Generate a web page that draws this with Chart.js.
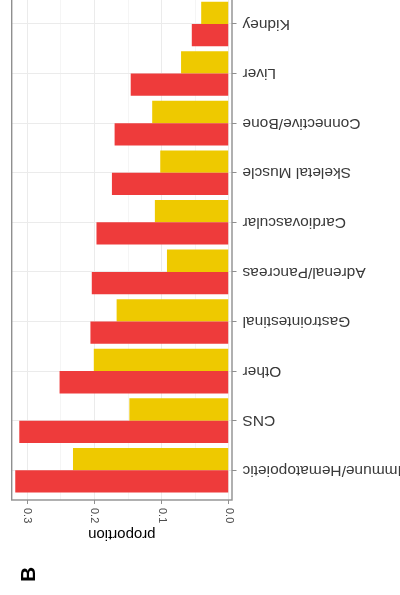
<!DOCTYPE html>
<html lang="en">
<head>
    <meta charset="UTF-8">
    <title>Proportion by tissue</title>
    <style>
        html, body { margin: 0; padding: 0; background: #fff; overflow: hidden; }
        #wrap { position: relative; width: 400px; height: 595px; overflow: hidden; }
        /* the reference is the whole figure turned upside down */
        #grafica { position: absolute; left: 0; top: -25px; transform: rotate(180deg); }
    </style>
</head>
<body>
    <div id="wrap">
        <canvas id="grafica" width="400" height="620"></canvas>
    </div>

    <script src="https://cdn.jsdelivr.net/npm/chart.js"></script>
    <script>
        const categories = ['Immune/Hematopoietic', 'CNS', 'Other', 'Gastrointestinal', 'Adrenal/Pancreas',
            'Cardiovascular', 'Skeletal Muscle', 'Connective/Bone', 'Liver', 'Kidney'];
        const redValues = [0.318, 0.312, 0.252, 0.206, 0.204, 0.197, 0.174, 0.170, 0.146, 0.055];
        const yellowValues = [0.232, 0.148, 0.201, 0.167, 0.092, 0.110, 0.102, 0.114, 0.071, 0.041];
        const proportionTicks = [0, 0.05, 0.1, 0.15, 0.2, 0.25, 0.3];

        const isMajor = v => Math.round(v * 100) % 10 === 0;

        // panel border + the "B" panel tag
        const extras = {
            id: 'extras',
            afterDatasetsDraw(chart) {
                const { ctx, chartArea: a } = chart;
                ctx.save();
                ctx.strokeStyle = '#8f8f8f';
                ctx.lineWidth = 1.4;
                ctx.strokeRect(a.left, a.top, a.right - a.left, a.bottom - a.top);
                ctx.restore();
            },
            afterDraw(chart) {
                const ctx = chart.ctx;
                ctx.save();
                ctx.translate(370.5, 20.5);
                ctx.rotate(Math.PI / 2);
                ctx.font = "bold 21px 'Liberation Sans', Arial, sans-serif";
                ctx.fillStyle = '#000';
                ctx.textAlign = 'center';
                ctx.textBaseline = 'middle';
                ctx.fillText('B', 0, 0);
                ctx.restore();
            }
        };

        Chart.defaults.font.family = "'Liberation Sans', Arial, sans-serif";

        const ctx = document.getElementById('grafica').getContext('2d');
        new Chart(ctx, {
            type: 'bar',
            data: {
                datasets: [{
                    label: 'red',
                    data: redValues.map((v, i) => ({ x: v, y: i })),
                    backgroundColor: '#EE3B3B',
                    borderWidth: 0
                }, {
                    label: 'yellow',
                    data: yellowValues.map((v, i) => ({ x: v, y: i })),
                    backgroundColor: '#EEC900',
                    borderWidth: 0
                }]
            },
            options: {
                indexAxis: 'y',
                responsive: false,
                animation: false,
                barPercentage: 1,
                categoryPercentage: 0.9,
                layout: { padding: { left: 0, right: 11.7, top: 0, bottom: 19.2 } },
                plugins: { legend: { display: false }, tooltip: { enabled: false } },
                scales: {
                    x: {
                        type: 'linear',
                        position: 'top',
                        min: -0.0049,
                        max: 0.3233,
                        afterBuildTicks: s => { s.ticks = proportionTicks.map(v => ({ value: v })); },
                        afterFit: s => { s.height = 95; },
                        border: { display: false },
                        grid: {
                            color: c => isMajor(c.tick.value) ? '#EBEBEB' : '#F5F5F5',
                            lineWidth: 1,
                            tickColor: c => isMajor(c.tick.value) ? '#8f8f8f' : 'rgba(0,0,0,0)',
                            tickLength: 4
                        },
                        ticks: {
                            autoSkip: false,
                            minRotation: 90,
                            maxRotation: 90,
                            padding: 4,
                            labelOffset: 13.2,
                            color: '#4D4D4D',
                            font: { size: 11 },
                            callback: v => isMajor(v) ? v.toFixed(1) : ''
                        },
                        title: {
                            display: true,
                            text: 'proportion',
                            color: '#000',
                            font: { size: 15 },
                            padding: { top: 52, bottom: 0 }
                        }
                    },
                    y: {
                        type: 'linear',
                        reverse: true,
                        offset: false,
                        min: -0.6,
                        max: categories.length - 0.4,
                        afterBuildTicks: s => { s.ticks = categories.map((c, i) => ({ value: i })); },
                        afterFit: s => { s.width = 168; },
                        border: { display: false },
                        grid: {
                            offset: false,
                            color: '#EBEBEB',
                            lineWidth: 1,
                            tickColor: '#8f8f8f',
                            tickLength: 4.5
                        },
                        ticks: {
                            autoSkip: false,
                            padding: 6,
                            color: '#3A3A3A',
                            font: { size: 15.5 },
                            callback: v => categories[v]
                        }
                    }
                }
            },
            plugins: [extras]
        });
    </script>
</body>
</html>
